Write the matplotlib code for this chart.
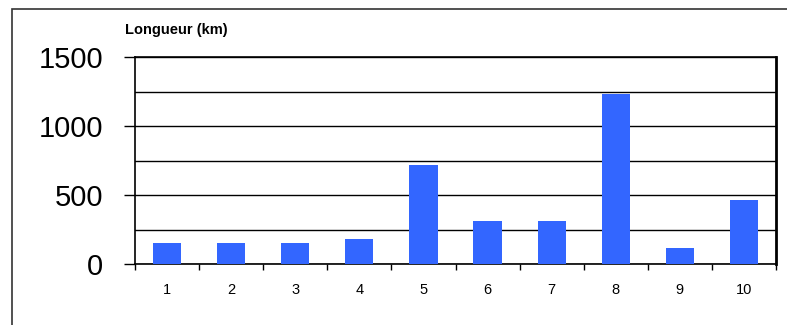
import numpy as np
import matplotlib.pyplot as plt
from matplotlib.patches import Rectangle

plt.rcParams['font.family'] = ['Liberation Sans', 'DejaVu Sans']

# data
categories = ['1', '2', '3', '4', '5', '6', '7', '8', '9', '10']
lengths_km = [150, 150, 150, 180, 720, 310, 310, 1230, 115, 465]

fig = plt.figure(figsize=(7.87, 3.25), dpi=100)
ax = fig.add_axes([135 / 787, 61 / 325, 641 / 787, 207 / 325])

x = np.arange(1, len(categories) + 1)
ax.bar(x, lengths_km, width=0.44, color='#3366FF', zorder=3)

# grid every 250, labels every 500
ax.set_ylim(0, 1500)
ax.set_yticks([0, 500, 1000, 1500])
ax.set_yticks(np.arange(250, 1500, 500), minor=True)
ax.yaxis.grid(True, which='both', color='black', linewidth=1, zorder=1)
ax.tick_params(axis='y', which='major', length=8, width=1, pad=15, labelsize=21)
ax.tick_params(axis='y', which='minor', length=0)

# category labels, with tick marks between categories
ax.set_xlim(0.5, len(categories) + 0.5)
ax.set_xticks(x)
ax.set_xticklabels(categories)
ax.set_xticks(np.arange(0.5, len(categories) + 1), minor=True)
ax.tick_params(axis='x', which='major', length=0, pad=14, labelsize=10.5)
ax.tick_params(axis='x', which='minor', length=4, width=1, direction='out')

for side in ['left', 'bottom', 'top']:
    ax.spines[side].set_linewidth(1.2)
ax.spines['right'].set_linewidth(2)

fig.text(125 / 787, 1 - 30 / 325, 'Longueur (km)', fontsize=10.5, fontweight='bold',
         va='center', ha='left')

# outer frame around the chart
fig.patches.append(Rectangle((12 / 787, -0.05), 1.0, 1 - 9 / 325 + 0.05,
                             transform=fig.transFigure, fill=False,
                             edgecolor='#333333', linewidth=1.2))

fig.savefig('out.png', dpi=100)
